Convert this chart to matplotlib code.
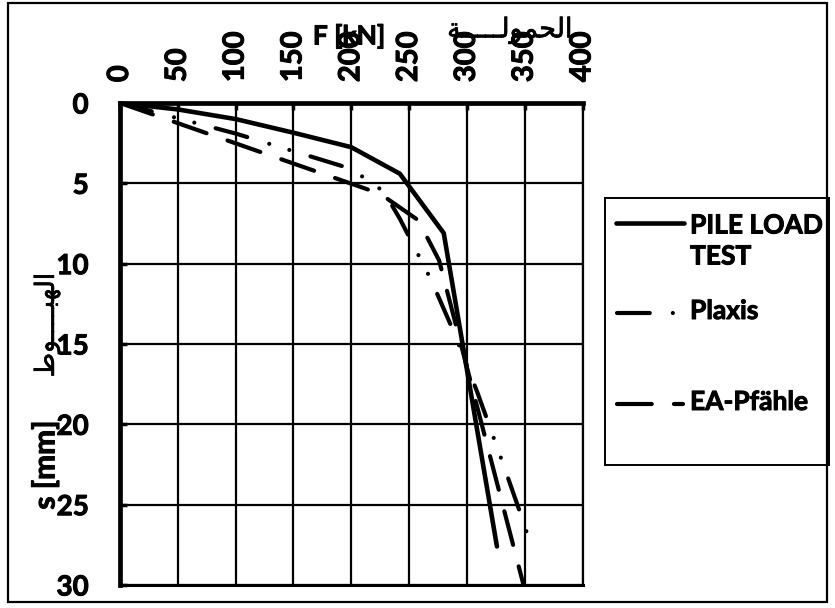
import matplotlib
matplotlib.use("Agg")
import matplotlib.pyplot as plt
import matplotlib.patheffects as pe
from matplotlib.patches import Rectangle

# load F [kN] vs settlement s [mm]
test_F = [0, 50, 100, 150, 200, 242, 280, 326]
test_s = [0, 0.4, 1.0, 1.85, 2.75, 4.4, 8.1, 27.6]

plaxis_F = [0, 100, 200, 228, 242, 269, 289, 309, 332, 349, 356]
plaxis_s = [0, 1.9, 4.1, 5.5, 7.2, 11.0, 14.3, 18.0, 22.6, 26.1, 27.7]

ea_F = [0, 225, 258, 276, 349]
ea_s = [0, 5.65, 7.3, 9.8, 30.0]

x_ticks = [0, 50, 100, 150, 200, 250, 300, 350, 400]
y_ticks = [0, 5, 10, 15, 20, 25, 30]
names = ["PILE LOAD\nTEST", "Plaxis", "EA-Pfähle"]

# arabic labels written in presentation forms (visual order) so they join up
ar_load = "\uFE94" + "\u0640" * 5 + "\uFEDF\uFEEE\uFEE4\uFEA4\uFEDF\uFE8D"
ar_settle = "\uFEC1\uFEEE" + "\u0640" * 4 + "\uFE92\uFEEC\uFEDF\uFE8D"

plt.rcParams["lines.scale_dashes"] = False
lat = ["Lato", "DejaVu Sans"]
thick = [pe.withStroke(linewidth=0.7, foreground="black")]

dash_ea = (0, (25.0, 16.0))
dash_plaxis = (0, (23.6, 16.6, 0.01, 15.1, 0.01, 15.9))

fig = plt.figure(figsize=(8.35, 6.08), dpi=100)
ax = fig.add_axes([120 / 835, 1 - 585 / 608, 462.5 / 835, 482 / 608])

ax.plot(test_F, test_s, color="black", lw=3.3, solid_capstyle="round",
        solid_joinstyle="round", zorder=5)
ax.plot(plaxis_F, plaxis_s, color="black", lw=3.0, linestyle=dash_plaxis,
        dash_capstyle="round", zorder=5)
ax.plot(ea_F, ea_s, color="black", lw=3.0, linestyle=dash_ea,
        dash_capstyle="round", zorder=5)

ax.set_xlim(0, 400)
ax.set_ylim(30, 0)
ax.set_xticks(x_ticks)
ax.set_yticks(y_ticks)
ax.xaxis.tick_top()
ax.grid(True, color="black", lw=1.6)
ax.set_axisbelow(True)

ax.tick_params(axis="x", direction="in", length=5, width=2.5, pad=15,
               labelsize=21, rotation=90)
ax.tick_params(axis="y", direction="in", length=5, width=2.5, pad=22.5,
               labelsize=20)
for lab in ax.get_xticklabels() + ax.get_yticklabels():
    lab.set_family(lat)
    lab.set_fontweight("bold")
    lab.set_path_effects(thick)

ax.spines["top"].set_linewidth(3.4)
ax.spines["left"].set_linewidth(3.4)
ax.spines["right"].set_linewidth(1.6)
ax.spines["bottom"].set_linewidth(2.2)

# axis titles
fig.text(349 / 835, 1 - 36 / 608, "F [kN]", family=lat, fontweight="bold",
         fontsize=19, ha="center", va="center", path_effects=thick)
fig.text(510 / 835, 1 - 30 / 608, ar_load, family=["DejaVu Sans"],
         fontsize=19.5, ha="center", va="center",
         path_effects=[pe.withStroke(linewidth=0.5, foreground="black")])
fig.text(45 / 835, 1 - 465 / 608, "s [mm]", family=lat, fontweight="bold",
         fontsize=21.5, ha="center", va="center", rotation=90,
         path_effects=thick)
fig.text(47 / 835, 1 - 325 / 608, ar_settle, family=["DejaVu Sans"],
         fontsize=19, ha="center", va="center", rotation=90,
         path_effects=[pe.withStroke(linewidth=0.5, foreground="black")])

# legend box
lax = fig.add_axes([605 / 835, 1 - 465 / 608, 224 / 835, 267 / 608])
lax.set_xlim(605, 829)
lax.set_ylim(465, 198)
lax.set_xticks([])
lax.set_yticks([])
for sp in lax.spines.values():
    sp.set_linewidth(1.4)

lax.plot([616, 684], [223, 223], color="black", lw=3.3, solid_capstyle="round")
lax.plot([617, 676], [313, 313], color="black", lw=3.0, linestyle=dash_plaxis,
         dash_capstyle="round")
lax.plot([617, 683], [404, 404], color="black", lw=3.0, linestyle=dash_ea,
         dash_capstyle="round")
for name, yy in zip(names, [241, 311, 402]):
    lax.text(690, yy, name, family=lat, fontweight="bold", fontsize=19,
             ha="left", va="center", linespacing=1.35, path_effects=thick)

# frame round the whole chart
fig.add_artist(Rectangle((8 / 835, 1 - 602 / 608), 819 / 835, 599 / 608,
                         transform=fig.transFigure, fill=False,
                         edgecolor="black", lw=1.6))

fig.savefig("out.png", dpi=100)
